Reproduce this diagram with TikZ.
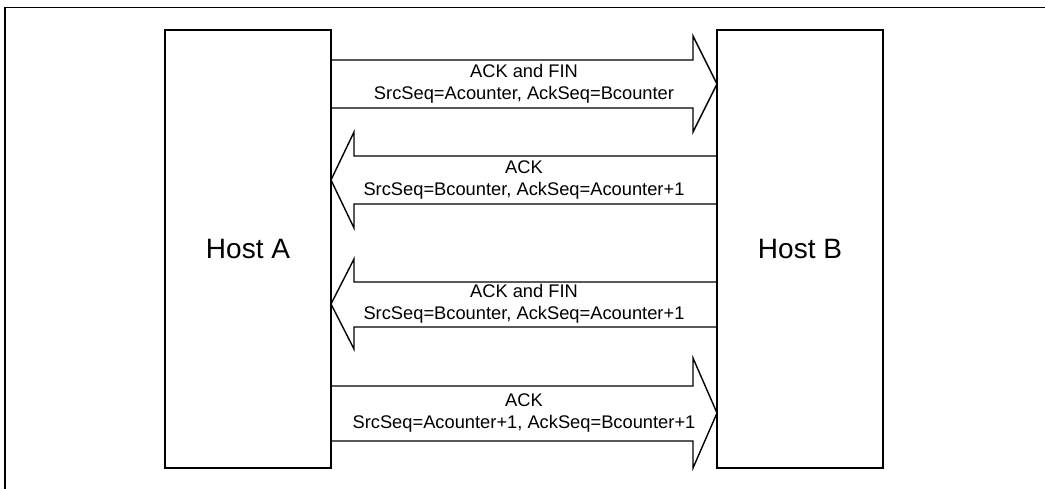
\documentclass[tikz,border=0pt]{standalone}
\usepackage{fontspec}
\setmainfont{Liberation Sans}
\usepackage{tikz}
\usetikzlibrary{positioning,calc}

\tikzset{
  host/.style={draw, line width=2.6pt, outer sep=0pt, minimum width=166pt, minimum height=438pt,
    font=\fontsize{28}{32}\selectfont},
  msgline/.style={draw, line width=1.4pt, line join=miter},
  msgtext/.style={align=center, inner sep=0pt, font=\fontsize{18.3}{22.5}\selectfont},
  frameline/.style={line width=1.6pt}
}

\begin{document}
\begin{tikzpicture}[x=1pt, y=-1pt]
  \useasboundingbox (0,0) rectangle (1045,488);
  \clip (0,0) rectangle (1045,488);
  \draw[frameline] (5,7.5) rectangle (1060,500);

  % hosts
  \node[host] (hA) at (248,249) {Host A};
  \node[host, right=386pt of hA] (hB) {Host B};

  % A -> B : ACK and FIN
  \draw[msgline] (hA.east |- 0,60) -- (693,60) -- (693,36) -- (hB.west |- 0,84)
    -- (693,132) -- (693,108) -- (hA.east |- 0,108);
  \node[msgtext] (m1) at (524,84) {ACK and FIN\\SrcSeq=Acounter, AckSeq=Bcounter};

  % B -> A : ACK
  \draw[msgline] (hB.west |- 0,156) -- (354,156) -- (354,132) -- (hA.east |- 0,180)
    -- (354,228) -- (354,204) -- (hB.west |- 0,204);
  \node[msgtext] (m2) at (524,180) {ACK\\SrcSeq=Bcounter, AckSeq=Acounter+1};

  % B -> A : ACK and FIN
  \draw[msgline] (hB.west |- 0,282) -- (354,282) -- (354,259) -- (hA.east |- 0,304)
    -- (354,349) -- (354,327) -- (hB.west |- 0,327);
  \node[msgtext] (m3) at (524,304) {ACK and FIN\\SrcSeq=Bcounter, AckSeq=Acounter+1};

  % A -> B : ACK
  \draw[msgline] (hA.east |- 0,386) -- (693,386) -- (693,358) -- (hB.west |- 0,413)
    -- (693,468) -- (693,441) -- (hA.east |- 0,441);
  \node[msgtext] (m4) at (524,413) {ACK\\SrcSeq=Acounter+1, AckSeq=Bcounter+1};
\end{tikzpicture}
\end{document}
